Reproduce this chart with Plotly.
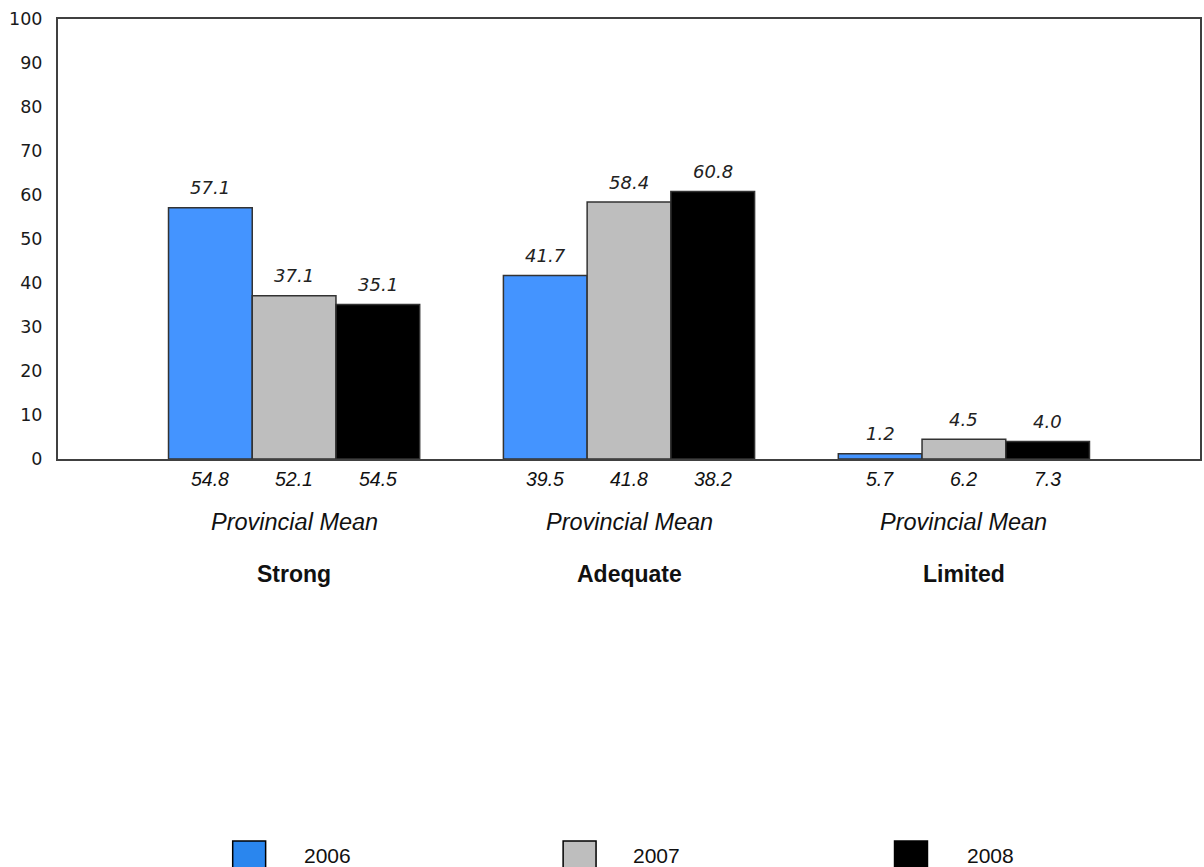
import plotly.graph_objects as go

categories = ["Strong", "Adequate", "Limited"]
years = ["2006", "2007", "2008"]
values_2006 = [57.1, 41.7, 1.2]
values_2007 = [37.1, 58.4, 4.5]
values_2008 = [35.1, 60.8, 4.0]
mean_2006 = [54.8, 39.5, 5.7]
mean_2007 = [52.1, 41.8, 6.2]
mean_2008 = [54.5, 38.2, 7.3]
y_ticks = list(range(0, 101, 10))

bar_colors = ["#4494FF", "#BEBEBE", "#000000"]
legend_colors = ["#2A86EE", "#BEBEBE", "#000000"]

series = [values_2006, values_2007, values_2008]
means = [mean_2006, mean_2007, mean_2008]

W, H = 1204, 867
ML, MR, MT, MB = 58, 2, 19, 408

fig = go.Figure()
x_idx = list(range(len(categories)))
for yr, vals, col in zip(years, series, bar_colors):
    fig.add_trace(go.Bar(
        x=x_idx, y=vals, name=yr,
        marker=dict(color=col, line=dict(color="#333333", width=1.5)),
        showlegend=False,
    ))

bar_w = 0.25
annotations = []
for j, (vals, mvals) in enumerate(zip(series, means)):
    off = (j - 1) * bar_w
    for i, (v, m) in enumerate(zip(vals, mvals)):
        annotations.append(dict(
            x=i + off, y=v, xref="x", yref="y", text=f"<i>{v:.1f}</i>",
            showarrow=False, yanchor="middle", yshift=20,
            font=dict(family="DejaVu Sans", size=18, color="#222222"),
        ))
        annotations.append(dict(
            x=i + off, y=0, xref="x", yref="y", text=f"<i>{m:.1f}</i>",
            showarrow=False, yanchor="middle", yshift=-20,
            font=dict(family="Liberation Sans, Arial", size=19.5, color="#111111"),
        ))
for i, c in enumerate(categories):
    annotations.append(dict(
        x=i, y=0, xref="x", yref="y", text="<i>Provincial Mean</i>",
        showarrow=False, yanchor="middle", yshift=-63,
        font=dict(family="Liberation Sans, Arial", size=23.5, color="#111111"),
    ))
    annotations.append(dict(
        x=i, y=0, xref="x", yref="y", text=f"<b>{c}</b>",
        showarrow=False, yanchor="middle", yshift=-115,
        font=dict(family="Liberation Sans, Arial", size=23, color="#111111"),
    ))

pw = W - ML - MR
ph = H - MT - MB
def px_x(X):
    return (X - ML) / pw
def px_y(Y):
    return (H - MB - Y) / ph

shapes = []
box_left = [233, 564, 896]
text_left = [302, 632, 967]
for yr, col, bl, tl in zip(years, legend_colors, box_left, text_left):
    shapes.append(dict(
        type="rect", xref="paper", yref="paper",
        x0=px_x(bl), x1=px_x(bl + 33), y0=px_y(841), y1=px_y(880),
        fillcolor=col, line=dict(color="#000000", width=1.5),
    ))
    annotations.append(dict(
        x=px_x(tl), y=px_y(855), xref="paper", yref="paper", text=yr,
        showarrow=False, xanchor="left", yanchor="middle",
        font=dict(family="Liberation Sans, Arial", size=21, color="#111111"),
    ))

fig.update_layout(
    width=W, height=H,
    margin=dict(l=ML, r=MR, t=MT, b=MB, pad=0),
    paper_bgcolor="white", plot_bgcolor="white",
    barmode="group", bargap=0.25, bargroupgap=0,
    annotations=annotations, shapes=shapes,
    showlegend=False,
)
fig.update_xaxes(
    range=[-0.705, 2.705], showticklabels=False, ticks="",
    showgrid=False, zeroline=False,
    showline=True, mirror=True, linecolor="#404040", linewidth=2,
)
fig.update_yaxes(
    range=[0, 100], tickvals=y_ticks, ticks="",
    showgrid=False, zeroline=False,
    showline=True, mirror=True, linecolor="#404040", linewidth=2,
    tickfont=dict(family="DejaVu Sans", size=17.5, color="#1a1a1a"),
    ticklabelstandoff=10,
)

fig.write_html(
    "out.html",
    config={"displayModeBar": False},
    post_script="document.body.style.margin='0';document.body.style.overflow='hidden';",
)
